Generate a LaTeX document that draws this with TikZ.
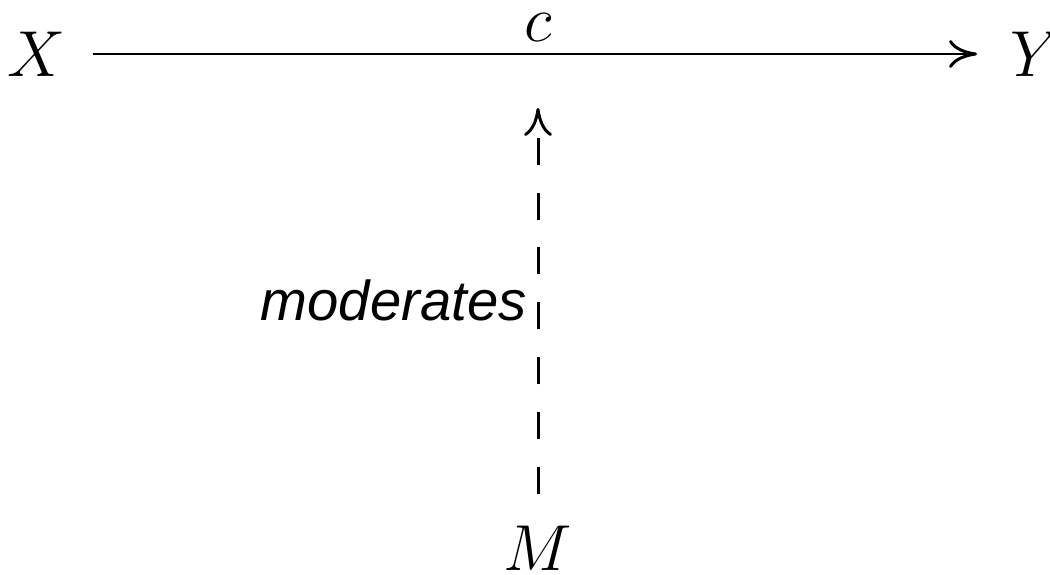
\RequirePackage{fix-cm}
\documentclass[tikz,border=0pt]{standalone}
\usepackage{fontspec}
\newfontfamily\labelfont{Liberation Sans}
\usetikzlibrary{arrows.meta}

\begin{document}
\begin{tikzpicture}[
  x=0.02cm, y=-0.02cm,
  var/.style={inner sep=0pt, font=\fontsize{37}{44}\selectfont},
  effect/.style={-{Computer Modern Rightarrow[length=0.56cm, width=0.56cm]}, line width=1.7pt},
  modpath/.style={-{Computer Modern Rightarrow[length=0.56cm, width=0.56cm]}, line width=1.7pt, dash pattern=on 0.54cm off 0.56cm},
  modlabel/.style={inner sep=0pt, font=\labelfont\itshape\fontsize{32}{38}\selectfont}
]
\useasboundingbox (0,0) rectangle (1050,574);

% variables
\node[var, anchor=east] (x) at (66,54) {$X$};
\node[var, anchor=west] (y) at (1010,54) {$Y$};
\node[var] (m) at (538,548) {$M$};

% direct path
\draw[effect, shorten <=0.54cm, shorten >=0.66cm] (x) -- node[var, above=0.22cm] (c) {$c$} coordinate[midway] (hit) (y);

% moderation
\draw[modpath, shorten <=0.62cm, shorten >=1.08cm] (m) -- node[modlabel, pos=0.477, left=0.2cm] (mod) {moderates} (m |- hit);

\end{tikzpicture}
\end{document}
